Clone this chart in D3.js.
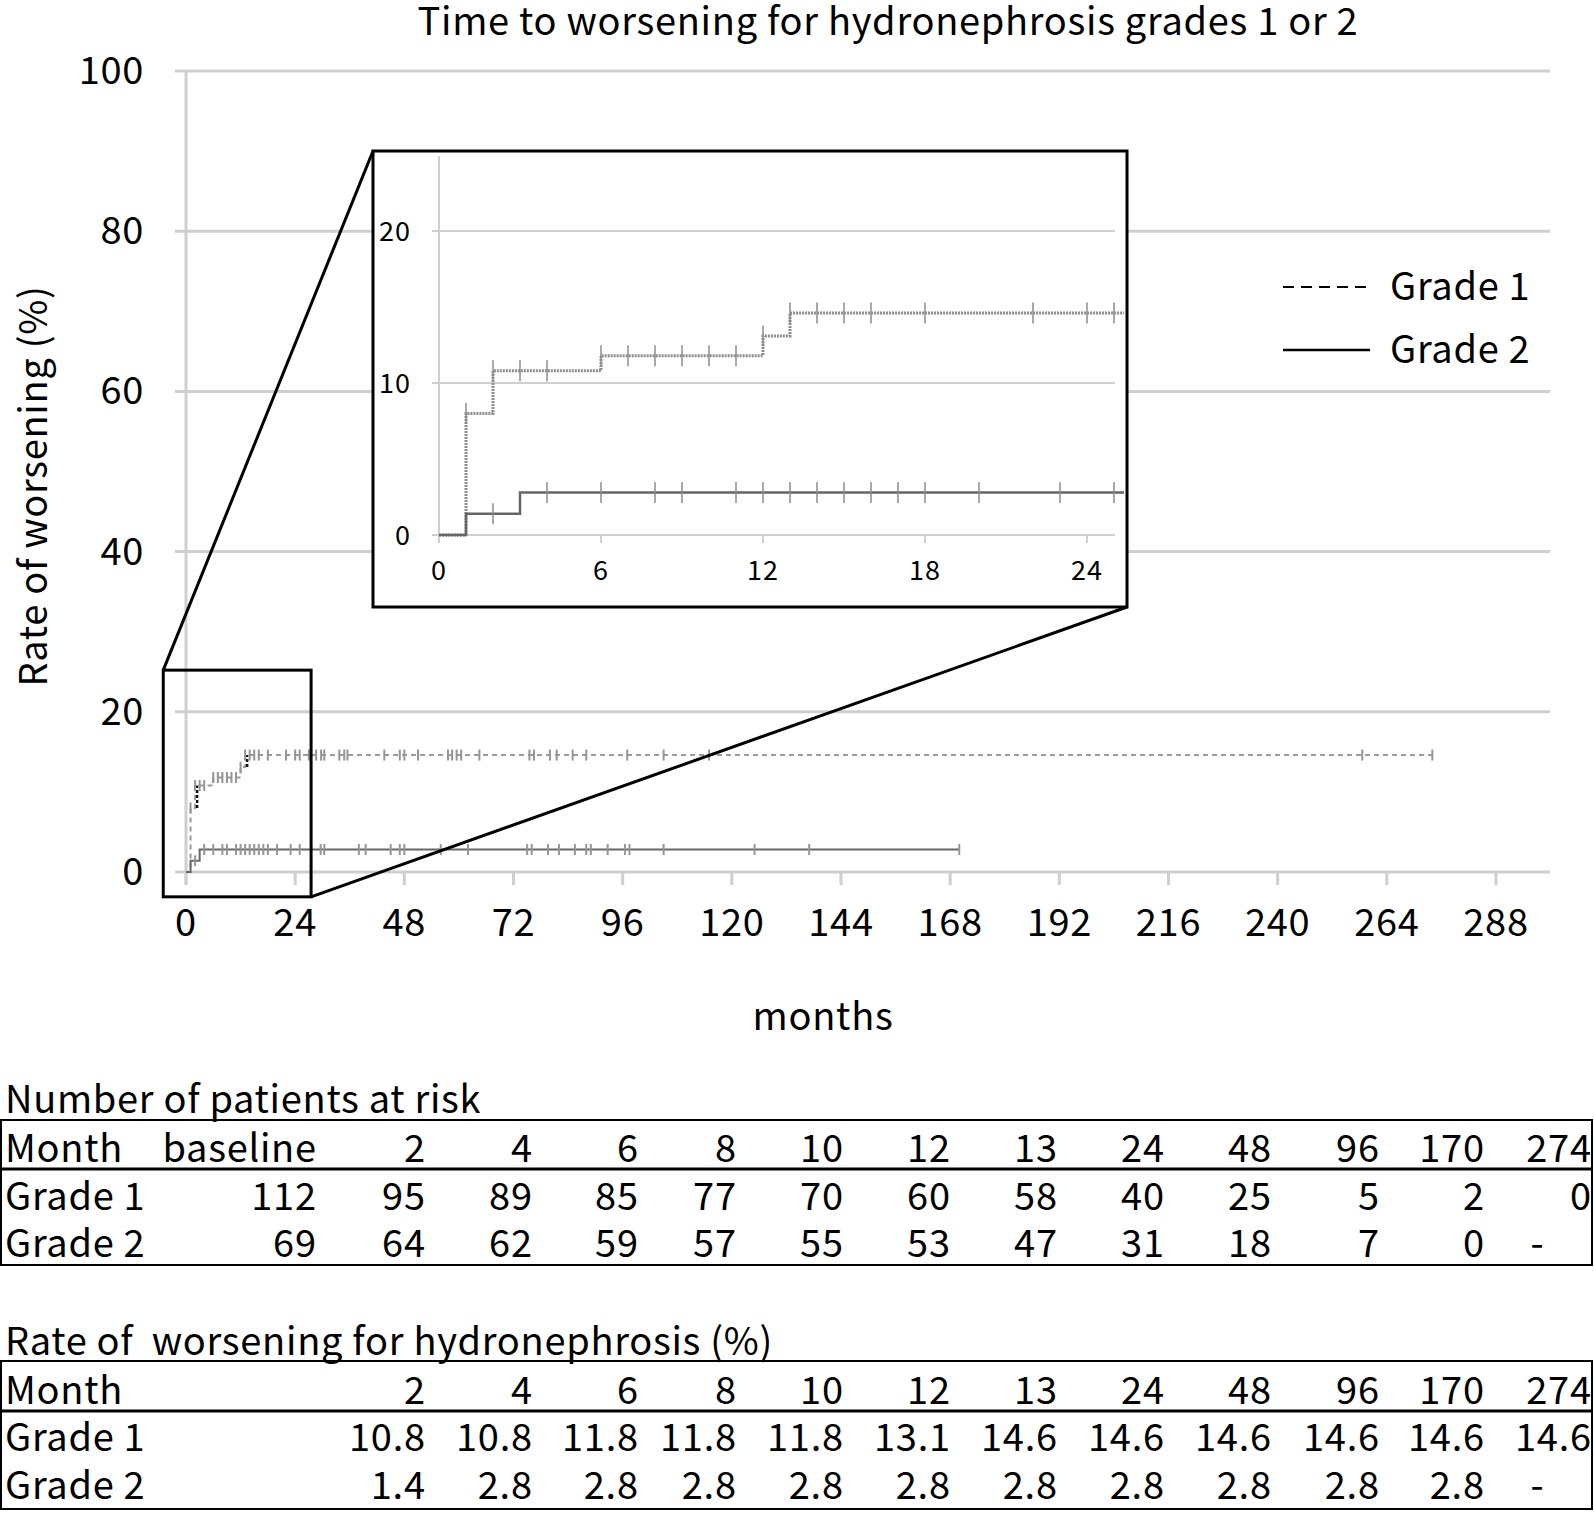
<!DOCTYPE html>
<html><head><meta charset="utf-8">
<script src="https://cdn.jsdelivr.net/npm/d3@7"></script>
<style>body{margin:0;background:#fff} svg{display:block} text{white-space:pre}</style>
</head><body>
<script>
// ---------------- DATA ----------------
const chartTitle = "Time to worsening for hydronephrosis grades 1 or 2";
const xLabel = "months";
const yLabel = "Rate of worsening (%)";
const xTicks = [0, 24, 48, 72, 96, 120, 144, 168, 192, 216, 240, 264, 288];
const yTicks = [0, 20, 40, 60, 80, 100];
const insetXTicks = [0, 6, 12, 18, 24];
const insetYTicks = [0, 10, 20];
const seriesNames = ["Grade 1", "Grade 2"];
// step points [month, rate %]
const grade1Steps = [[0, 0], [1, 8.0], [2, 10.8], [6, 11.8], [12, 13.1], [13, 14.6]];
const grade1End = 274;
const grade2Steps = [[0, 0], [1, 1.4], [3, 2.8]];
const grade2End = 170;
// censor marks (months)
const grade1Censor = [1, 2, 3, 4, 6, 7, 8, 9, 10, 11, 12, 13, 14, 15, 16, 18, 22, 24, 25, 27, 28.6, 29.7, 30.4, 33.7, 34.8, 35.5, 43.6, 47, 48, 51, 57.6, 58.5, 59.5, 60.5, 64.5, 75.5, 76.5, 80, 81.5, 85, 88, 97, 105, 115, 258.6, 274];
const grade2Censor = [2, 4, 6, 8, 9, 11, 12, 13, 14, 15, 16, 17, 18, 20, 23, 25, 29.6, 30.4, 38, 39.5, 45, 47, 48, 56, 62, 75, 76, 79.6, 82, 85.5, 88, 89, 92.7, 96.5, 97.5, 105, 125, 137, 170];
// zoom window in main-chart data units
const zoomX = [-5, 27.5];
const zoomY = [-3.1, 25.2];

// tables
const riskTitle = "Number of patients at risk";
const riskHeader = ["baseline", "2", "4", "6", "8", "10", "12", "13", "24", "48", "96", "170", "274"];
const riskGrade1 = ["112", "95", "89", "85", "77", "70", "60", "58", "40", "25", "5", "2", "0"];
const riskGrade2 = ["69", "64", "62", "59", "57", "55", "53", "47", "31", "18", "7", "0", "-"];
const rateTitle = "Rate of  worsening for hydronephrosis (%)";
const rateHeader = ["2", "4", "6", "8", "10", "12", "13", "24", "48", "96", "170", "274"];
const rateGrade1 = ["10.8", "10.8", "11.8", "11.8", "11.8", "13.1", "14.6", "14.6", "14.6", "14.6", "14.6", "14.6"];
const rateGrade2 = ["1.4", "2.8", "2.8", "2.8", "2.8", "2.8", "2.8", "2.8", "2.8", "2.8", "2.8", "-"];
const rowLabels = ["Month", "Grade 1", "Grade 2"];

// ---------------- LAYOUT ----------------
const W = 1594, H = 1524;
const FONT = "'Noto Sans CJK JP', 'Noto Sans', sans-serif";
const FS = 38, LS = 0.7;
const svg = d3.select("body").append("svg").attr("width", W).attr("height", H)
  .style("font-family", FONT);

const x = d3.scaleLinear().domain([0, 288]).range([186, 1496]);
const y = d3.scaleLinear().domain([0, 100]).range([872, 71]);
const gridLeft = 175, gridRight = 1550;
const GRID = "#cfcfcf";

function big(sel) { return sel.attr("font-size", FS).attr("letter-spacing", LS); }

// title
big(svg.append("text").attr("x", 888).attr("y", 35).attr("text-anchor", "middle")).text(chartTitle);

// gridlines
svg.append("g").selectAll("line").data(yTicks).join("line")
  .attr("x1", gridLeft).attr("x2", gridRight)
  .attr("y1", d => y(d)).attr("y2", d => y(d))
  .attr("stroke", GRID).attr("stroke-width", 3);
svg.append("line").attr("x1", x(0)).attr("x2", x(0)).attr("y1", y(100)).attr("y2", y(0) + 13)
  .attr("stroke", GRID).attr("stroke-width", 3);
svg.append("g").selectAll("line").data(xTicks).join("line")
  .attr("x1", d => x(d)).attr("x2", d => x(d)).attr("y1", y(0)).attr("y2", y(0) + 13)
  .attr("stroke", GRID).attr("stroke-width", 3);
big(svg.append("g").selectAll("text").data(xTicks).join("text")
  .attr("x", d => x(d)).attr("y", 936).attr("text-anchor", "middle")).text(d => d);
big(svg.append("g").selectAll("text").data(yTicks).join("text")
  .attr("x", 144).attr("y", d => y(d) + 13).attr("text-anchor", "end")).text(d => d);
big(svg.append("text").attr("x", 823).attr("y", 1030).attr("text-anchor", "middle")).text(xLabel);
big(svg.append("text").attr("transform", "translate(47,486) rotate(-90)")
  .attr("text-anchor", "middle")).text(yLabel);

// step helpers
function stepPoints(steps, end) { return steps.concat([[end, steps[steps.length - 1][1]]]); }
function levelAt(steps, t) { let v = 0; for (const s of steps) if (s[0] <= t) v = s[1]; return v; }

function drawCurves(g, xs, ys, cfg) {
  const line = d3.line().x(d => xs(d[0])).y(d => ys(d[1])).curve(d3.curveStepAfter);
  g.append("path").datum(stepPoints(grade1Steps, grade1End)).attr("d", line)
    .attr("fill", "none").attr("stroke", cfg.c1).attr("stroke-width", cfg.w1)
    .attr("stroke-dasharray", cfg.dash1);
  if (cfg.darkRisers) {
    const r = grade1Steps.filter(s => cfg.darkRisers.includes(s[0]));
    g.append("g").selectAll("line").data(r).join("line")
      .attr("x1", d => xs(d[0]) + 2).attr("x2", d => xs(d[0]) + 2)
      .attr("y1", d => ys(levelAt(grade1Steps, d[0] - 0.01))).attr("y2", d => ys(d[1]))
      .attr("stroke", "#111").attr("stroke-width", 2.5).attr("stroke-dasharray", "3,2");
  }
  g.append("path").datum(stepPoints(grade2Steps, grade2End)).attr("d", line)
    .attr("fill", "none").attr("stroke", cfg.c2).attr("stroke-width", cfg.w2);
  g.append("g").selectAll("line").data(grade1Censor).join("line")
    .attr("x1", d => xs(d)).attr("x2", d => xs(d))
    .attr("y1", d => ys(levelAt(grade1Steps, d)) - cfg.th / 2)
    .attr("y2", d => ys(levelAt(grade1Steps, d)) + cfg.th / 2)
    .attr("stroke", cfg.tc).attr("stroke-width", cfg.tw);
  g.append("g").selectAll("line").data(grade2Censor).join("line")
    .attr("x1", d => xs(d)).attr("x2", d => xs(d))
    .attr("y1", d => ys(levelAt(grade2Steps, d)) - cfg.th / 2)
    .attr("y2", d => ys(levelAt(grade2Steps, d)) + cfg.th / 2)
    .attr("stroke", cfg.tc).attr("stroke-width", cfg.tw);
}
drawCurves(svg.append("g"), x, y, {c1: "#9a9a9a", w1: 2, dash1: "5,4", c2: "#666", w2: 2,
  tc: "#959595", tw: 2, th: 11, darkRisers: [2, 13]});

// legend
const legY = [287, 350];
svg.append("line").attr("x1", 1283).attr("x2", 1367).attr("y1", legY[0]).attr("y2", legY[0])
  .attr("stroke", "#000").attr("stroke-width", 2).attr("stroke-dasharray", "11,7");
svg.append("line").attr("x1", 1283).attr("x2", 1370).attr("y1", legY[1]).attr("y2", legY[1])
  .attr("stroke", "#000").attr("stroke-width", 2.5);
big(svg.append("g").selectAll("text").data(seriesNames).join("text")
  .attr("x", 1390).attr("y", (d, i) => legY[i] + 13)).text(d => d);

// zoom rectangle in main chart
svg.append("rect").attr("x", x(zoomX[0])).attr("y", y(zoomY[1]))
  .attr("width", x(zoomX[1]) - x(zoomX[0])).attr("height", y(zoomY[0]) - y(zoomY[1]))
  .attr("fill", "none").attr("stroke", "#000").attr("stroke-width", 3);

// inset
const inset = {x0: 373, y0: 151, x1: 1127, y1: 607};
svg.append("line").attr("x1", x(zoomX[0])).attr("y1", y(zoomY[1])).attr("x2", inset.x0).attr("y2", inset.y0)
  .attr("stroke", "#000").attr("stroke-width", 3);
svg.append("line").attr("x1", x(zoomX[1])).attr("y1", y(zoomY[0])).attr("x2", inset.x1).attr("y2", inset.y1)
  .attr("stroke", "#000").attr("stroke-width", 3);
svg.append("rect").attr("x", inset.x0).attr("y", inset.y0)
  .attr("width", inset.x1 - inset.x0).attr("height", inset.y1 - inset.y0)
  .attr("fill", "#fff").attr("stroke", "#000").attr("stroke-width", 3);

const ix = d3.scaleLinear().domain([0, 24]).range([439, 1087]);
const iy = d3.scaleLinear().domain([0, 20]).range([535, 231]);
const ig = svg.append("g");
ig.append("g").selectAll("line").data(insetYTicks).join("line")
  .attr("x1", 432).attr("x2", 1115).attr("y1", d => iy(d)).attr("y2", d => iy(d))
  .attr("stroke", GRID).attr("stroke-width", 2);
ig.append("line").attr("x1", ix(0)).attr("x2", ix(0)).attr("y1", 156).attr("y2", iy(0) + 8)
  .attr("stroke", GRID).attr("stroke-width", 2);
ig.append("g").selectAll("line").data(insetXTicks).join("line")
  .attr("x1", d => ix(d)).attr("x2", d => ix(d)).attr("y1", iy(0)).attr("y2", iy(0) + 8)
  .attr("stroke", GRID).attr("stroke-width", 2);
ig.append("g").selectAll("text").data(insetXTicks).join("text")
  .attr("x", d => ix(d)).attr("y", 580).attr("text-anchor", "middle")
  .attr("font-size", 27).attr("letter-spacing", 1).text(d => d);
ig.append("g").selectAll("text").data(insetYTicks).join("text")
  .attr("x", 411).attr("y", d => iy(d) + 10).attr("text-anchor", "end")
  .attr("font-size", 27).attr("letter-spacing", 1).text(d => d);
svg.append("clipPath").attr("id", "ic").append("rect")
  .attr("x", inset.x0 + 2).attr("y", inset.y0 + 2).attr("width", 1122 - inset.x0).attr("height", inset.y1 - inset.y0 - 4);
drawCurves(ig.append("g").attr("clip-path", "url(#ic)"), ix, iy,
  {c1: "#8c8c8c", w1: 3, dash1: "2,1", c2: "#666", w2: 2.5, tc: "#8c8c8c", tw: 1.5, th: 21});

// ---------------- TABLES ----------------
const riskRight = [316, 425, 532, 638, 736, 843, 950, 1057, 1164, 1271, 1379, 1484, 1591];
const rateRight = riskRight.slice(1);
function drawTable(t) {
  const g = svg.append("g");
  big(g.append("text").attr("x", 5).attr("y", t.titleY + 13)).text(t.title);
  g.append("rect").attr("x", 1).attr("y", t.top).attr("width", 1591).attr("height", t.bottom - t.top)
    .attr("fill", "none").attr("stroke", "#000").attr("stroke-width", 2);
  g.append("line").attr("x1", 1).attr("x2", 1592).attr("y1", t.sep).attr("y2", t.sep)
    .attr("stroke", "#000").attr("stroke-width", 3);
  const rows = [t.header, t.g1, t.g2];
  rows.forEach((vals, r) => {
    big(g.append("text").attr("x", 5).attr("y", t.rowY[r] + 13)).text(rowLabels[r]);
    big(g.append("g").selectAll("text").data(vals).join("text")
      .attr("x", (d, i) => d === "-" ? (t.right[i] + (i > 0 ? t.right[i - 1] : t.right[i] - 107)) / 2 : t.right[i] + LS)
      .attr("y", t.rowY[r] + 13)
      .attr("text-anchor", d => d === "-" ? "middle" : "end")).text(d => d);
  });
}
drawTable({title: riskTitle, titleY: 1100, top: 1120, sep: 1169, bottom: 1265,
  rowY: [1149, 1197, 1244], header: riskHeader, g1: riskGrade1, g2: riskGrade2, right: riskRight});
drawTable({title: rateTitle, titleY: 1342, top: 1361, sep: 1411, bottom: 1509,
  rowY: [1391, 1438, 1486], header: rateHeader, g1: rateGrade1, g2: rateGrade2, right: rateRight});
</script>
</body></html>
